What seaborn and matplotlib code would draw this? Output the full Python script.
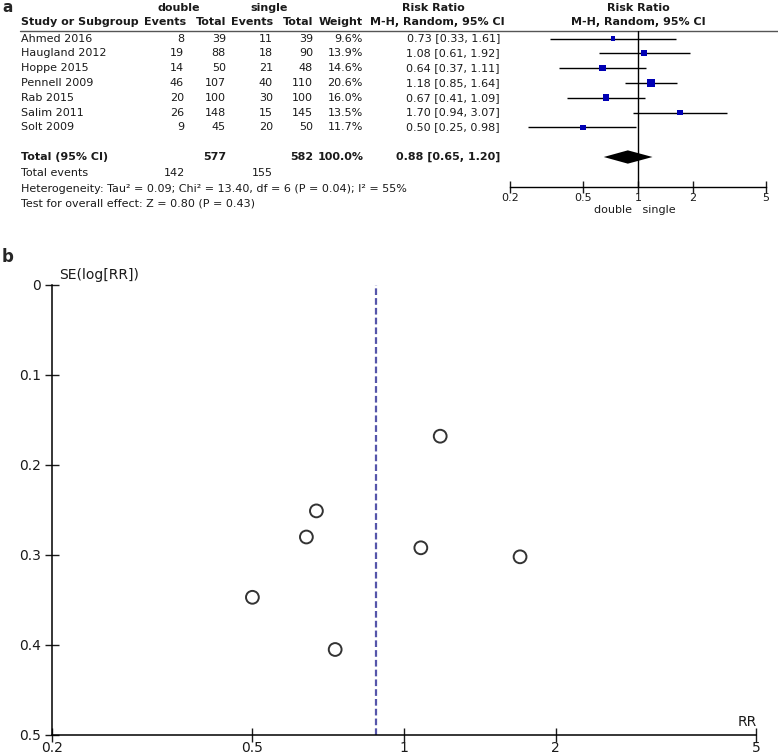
import matplotlib
matplotlib.use('Agg')
import matplotlib.pyplot as plt
from matplotlib.ticker import NullLocator
import seaborn as sns
import pandas as pd

# --- data ---
studies = ['Ahmed 2016', 'Haugland 2012', 'Hoppe 2015', 'Pennell 2009',
           'Rab 2015', 'Salim 2011', 'Solt 2009']
double_events = [8, 19, 14, 46, 20, 26, 9]
double_total = [39, 88, 50, 107, 100, 148, 45]
single_events = [11, 18, 21, 40, 30, 15, 20]
single_total = [39, 90, 48, 110, 100, 145, 50]
weights = [9.6, 13.9, 14.6, 20.6, 16.0, 13.5, 11.7]
rr = [0.73, 1.08, 0.64, 1.18, 0.67, 1.70, 0.50]
ci_low = [0.33, 0.61, 0.37, 0.85, 0.41, 0.94, 0.25]
ci_high = [1.61, 1.92, 1.11, 1.64, 1.09, 3.07, 0.98]
se_log_rr = [0.405, 0.292, 0.280, 0.168, 0.251, 0.302, 0.347]

pooled = [0.65, 0.88, 1.20]
totals = [577, 582]
total_events = [142, 155]
rr_ticks = [0.2, 0.5, 1, 2, 5]
rr_labels = ['0.2', '0.5', '1', '2', '5']
se_ticks = [0, 0.1, 0.2, 0.3, 0.4, 0.5]
se_labels = ['0', '0.1', '0.2', '0.3', '0.4', '0.5']

df = pd.DataFrame({'study': studies, 'rr': rr, 'lo': ci_low, 'hi': ci_high,
                   'weight': weights, 'se': se_log_rr})
df['row'] = range(len(df))

sns.set_style('white')
plt.rcParams['font.family'] = ['DejaVu Sans']

W, H = 778, 754
fig = plt.figure(figsize=(W / 100, H / 100), dpi=100, facecolor='white')

# canvas in pixel units for the table text
canvas = fig.add_axes([0, 0, 1, 1])
canvas.set_xlim(0, W)
canvas.set_ylim(H, 0)
canvas.axis('off')

TXT = '#1a1a1a'
ROW0, STEP = 38.5, 14.8
fs = 8


def row_y(i):
    return ROW0 + STEP * i


def tx(x, y, s, ha='right', bold=False, size=fs):
    canvas.text(x, y, s, ha=ha, va='center', fontsize=size, color=TXT,
                fontweight='bold' if bold else 'normal')


canvas.text(2, 0.5, 'a', fontsize=11, fontweight='bold', va='top', ha='left')
canvas.text(2, 257, 'b', fontsize=12, fontweight='bold', va='center', ha='left')

# headers
tx(179, 8, 'double', ha='center', bold=True)
tx(269, 8, 'single', ha='center', bold=True)
tx(433, 8, 'Risk Ratio', ha='center', bold=True)
tx(638, 8, 'Risk Ratio', ha='center', bold=True)
tx(21, 22, 'Study or Subgroup', ha='left', bold=True)
for x, s in [(186, 'Events'), (226, 'Total'), (273, 'Events'), (313, 'Total'),
             (363, 'Weight')]:
    tx(x, 22, s, bold=True)
tx(437, 22, 'M-H, Random, 95% CI', ha='center', bold=True)
tx(638, 22, 'M-H, Random, 95% CI', ha='center', bold=True)
canvas.plot([20, W], [31, 31], color='#555555', lw=1)

for i, r in df.iterrows():
    y = row_y(i)
    tx(21, y, r['study'], ha='left')
    tx(184, y, str(double_events[i]))
    tx(226, y, str(double_total[i]))
    tx(273, y, str(single_events[i]))
    tx(313, y, str(single_total[i]))
    tx(363, y, f"{r['weight']:.1f}%")
    tx(500, y, f"{r['rr']:.2f} [{r['lo']:.2f}, {r['hi']:.2f}]")

tx(21, 157, 'Total (95% CI)', ha='left', bold=True)
tx(226, 157, str(totals[0]), bold=True)
tx(313, 157, str(totals[1]), bold=True)
tx(364, 157, '100.0%', bold=True)
tx(500, 157, f'{pooled[1]:.2f} [{pooled[0]:.2f}, {pooled[2]:.2f}]', bold=True)
tx(21, 173, 'Total events', ha='left')
tx(185, 173, str(total_events[0]))
tx(273, 173, str(total_events[1]))
tx(21, 189, 'Heterogeneity: Tau\u00b2 = 0.09; Chi\u00b2 = 13.40, df = 6 (P = 0.04); I\u00b2 = 55%', ha='left')
tx(21, 203, 'Test for overall effect: Z = 0.80 (P = 0.43)', ha='left')
tx(635, 210, 'double   single', ha='center')

# --- forest plot ---
fx0, fx1, fy0, fy1 = 510, 766, 31, 187
fax = fig.add_axes([fx0 / W, 1 - fy1 / H, (fx1 - fx0) / W, (fy1 - fy0) / H])
fax.patch.set_alpha(0)
fax.set_xscale('log')
fax.set_xlim(0.2, 5)
fax.set_ylim((fy1 - ROW0) / STEP, (fy0 - ROW0) / STEP)
fax.hlines(df['row'], df['lo'], df['hi'], color='black', lw=1)
sns.scatterplot(data=df, x='rr', y='row', size='weight', sizes=(12, 28),
                marker='s', color='#0000b4', edgecolor='none', legend=False,
                ax=fax, zorder=3)
fax.axvline(1, color='black', lw=1)
total_row = (157 - ROW0) / STEP
fax.fill([pooled[0], pooled[1], pooled[2], pooled[1]],
         [total_row, total_row - 0.45, total_row, total_row + 0.45],
         color='black', lw=0)
for side in ['top', 'left', 'right']:
    fax.spines[side].set_visible(False)
fax.spines['bottom'].set_linewidth(1)
fax.spines['bottom'].set_color('black')
fax.set_xticks(rr_ticks)
fax.set_xticklabels(rr_labels)
fax.xaxis.set_minor_locator(NullLocator())
fax.set_yticks([])
fax.tick_params(axis='x', direction='inout', length=8, width=1, labelsize=8,
                pad=0, colors=TXT, bottom=True)
fax.set_xlabel('')
fax.set_ylabel('')

# --- funnel plot ---
px0, px1, py0, py1 = 52, 756, 285, 735
ax = fig.add_axes([px0 / W, 1 - py1 / H, (px1 - px0) / W, (py1 - py0) / H])
ax.patch.set_alpha(0)
ax.set_xscale('log')
ax.axvline(pooled[1], color='#5555aa', lw=1.6, ls=(0, (3, 1.4)))
sns.scatterplot(data=df, x='rr', y='se', marker='o', s=85, facecolor='none',
                edgecolor='#333333', linewidth=1.4, ax=ax, zorder=3)
ax.set_xlim(0.2, 5)
ax.set_ylim(0.5, 0)
for side in ['top', 'right']:
    ax.spines[side].set_visible(False)
for side in ['left', 'bottom']:
    ax.spines[side].set_linewidth(1.1)
    ax.spines[side].set_color('black')
ax.set_xticks(rr_ticks)
ax.set_xticklabels(rr_labels)
ax.xaxis.set_minor_locator(NullLocator())
ax.set_yticks(se_ticks)
ax.set_yticklabels(se_labels)
ax.tick_params(axis='both', direction='inout', length=10, width=1,
               labelsize=10, colors=TXT, left=True, bottom=True)
ax.tick_params(axis='x', pad=-1)
ax.tick_params(axis='y', pad=3)
ax.set_xlabel('')
ax.set_ylabel('')

canvas.text(59, 275, 'SE(log[RR])', fontsize=10, color=TXT, ha='left', va='center')
canvas.text(747, 722, 'RR', fontsize=10, color=TXT, ha='center', va='center')
canvas.set_zorder(0)
fax.set_zorder(1)
ax.set_zorder(1)

fig.savefig('out.png', dpi=100, facecolor='white')
